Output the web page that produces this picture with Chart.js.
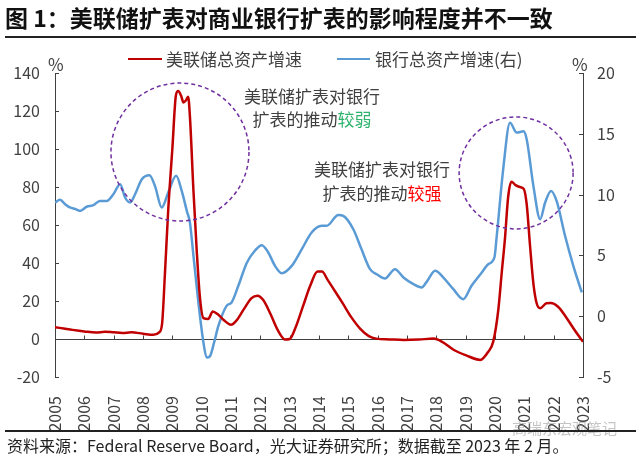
<!DOCTYPE html>
<html>
<head>
<meta charset="utf-8">
<script src="https://cdn.jsdelivr.net/npm/chart.js@4.4.1/dist/chart.umd.min.js"></script>
<style>
  html, body { margin:0; padding:0; background:#fff; }
  #wrap { position:relative; width:640px; height:456px; overflow:hidden; font-family:"Noto Sans CJK SC","Noto Sans",sans-serif; color:#404040; }
  #c { position:absolute; left:0; top:0; }
  .abs { position:absolute; white-space:nowrap; }
</style>
</head>
<body>
<div id="wrap">
  <canvas id="c" width="640" height="456"></canvas>
  <div class="abs" style="left:5px;top:5px;font-size:23px;line-height:24px;font-weight:700;color:#111;">图 1：美联储扩表对商业银行扩表的影响程度并不一致</div>
  <div class="abs" style="left:5px;top:36px;width:631px;height:1.5px;background:#222;"></div>

  <div class="abs" style="left:128px;top:57.5px;width:34px;height:2.5px;background:#C00000;"></div>
  <div class="abs" style="left:166px;top:49.5px;font-size:17px;line-height:17px;">美联储总资产增速</div>
  <div class="abs" style="left:337px;top:57.5px;width:33px;height:2.5px;background:#5B9BD5;"></div>
  <div class="abs" style="left:375px;top:49.5px;font-size:17px;line-height:17px;">银行总资产增速(右)</div>

  <div class="abs" style="left:48px;top:55px;font-size:17px;line-height:17px;">%</div>
  <div class="abs" style="left:572px;top:55px;font-size:17px;line-height:17px;">%</div>

  <div class="abs" style="left:212px;top:83.5px;width:200px;text-align:center;font-size:17px;line-height:23px;">美联储扩表对银行<br>扩表的推动<span style="color:#2EB36C;">较弱</span></div>
  <div class="abs" style="left:282px;top:157px;width:200px;text-align:center;font-size:17px;line-height:23.5px;">美联储扩表对银行<br>扩表的推动<span style="color:#FF0000;">较强</span></div>

  <div class="abs" style="left:512px;top:420px;font-size:15px;line-height:16px;color:rgba(150,150,150,0.55);">高瑞东宏观笔记</div>
  <div class="abs" style="left:5px;top:430px;width:631px;height:1.5px;background:#222;"></div>
  <div class="abs" style="left:7px;top:436px;font-size:16px;line-height:18px;color:#222;">资料来源：Federal Reserve Board，光大证券研究所；数据截至 2023 年 2 月。</div>
</div>
<script>
// ---- data ----
const years = [2005,2006,2007,2008,2009,2010,2011,2012,2013,2014,2015,2016,2017,2018,2019,2020,2021,2022,2023];
const leftTicks = [-20,0,20,40,60,80,100,120,140];
const rightTicks = [-5,0,5,10,15,20];

const fedX = [2005.0,2005.3,2005.6,2006.0,2006.4,2006.7,2007.0,2007.3,2007.6,2008.0,2008.35,2008.55,2008.65,2008.75,2008.86,2009.0,2009.12,2009.2,2009.3,2009.38,2009.46,2009.54,2009.6,2009.72,2009.83,2009.94,2010.06,2010.22,2010.38,2010.55,2010.75,2011.0,2011.2,2011.45,2011.7,2011.9,2012.1,2012.35,2012.6,2012.85,2013.0,2013.2,2013.45,2013.7,2013.95,2014.1,2014.3,2014.55,2014.8,2015.1,2015.4,2015.7,2015.95,2016.4,2016.9,2017.4,2017.9,2018.2,2018.6,2019.0,2019.5,2019.77,2019.94,2020.11,2020.23,2020.34,2020.45,2020.56,2020.7,2020.85,2020.98,2021.08,2021.19,2021.31,2021.42,2021.54,2021.75,2021.9,2022.15,2022.4,2022.7,2023.0];
const fedY = [6.2,5.5,4.8,4.0,3.4,3.8,3.5,3.2,3.5,2.8,2.2,3.5,8,35,68,100,128,130.5,128,124.5,125.5,127.5,117,78,47,22,11,10.5,14.5,13,10,7.5,10,16,21.5,22.8,20.5,13,4.5,-0.3,0,6,17,28,35.5,35.5,31,25,19,11.5,5.5,1.5,0.2,-0.2,-0.5,-0.3,0.2,-1.5,-5.8,-8.5,-11,-6.7,-1.4,15,35,53,75,82.8,81,80,79,71,50,29,18.8,16.2,18.8,19,17,12,5,-1.5];

const bankX = [2005.0,2005.17,2005.35,2005.51,2005.7,2005.85,2006.08,2006.31,2006.53,2006.76,2006.99,2007.22,2007.39,2007.56,2007.73,2007.96,2008.22,2008.41,2008.64,2008.86,2009.13,2009.32,2009.5,2009.6,2009.72,2009.89,2010.06,2010.17,2010.28,2010.42,2010.57,2010.85,2011.02,2011.25,2011.54,2011.82,2012.05,2012.27,2012.5,2012.73,2013.07,2013.41,2013.75,2014.09,2014.26,2014.66,2014.83,2015.17,2015.45,2015.74,2015.97,2016.25,2016.59,2016.88,2017.22,2017.5,2017.67,2017.96,2018.24,2018.58,2018.92,2019.2,2019.55,2019.77,2019.98,2020.06,2020.28,2020.51,2020.74,2020.97,2021.08,2021.31,2021.54,2021.71,2021.91,2022.1,2022.39,2022.67,2022.96];
const bankY = [9.35,9.57,9.2,8.94,8.8,8.66,9.0,9.13,9.48,9.48,10.03,10.86,9.76,9.35,10.03,11.27,11.6,10.7,8.94,10.17,11.54,10.3,8.6,7.7,4.96,1.1,-2.16,-3.4,-3.3,-2.2,-0.8,0.85,1.13,2.5,4.4,5.4,5.84,5.24,4.14,3.54,4.14,5.5,6.88,7.43,7.43,8.33,8.25,7.15,5.5,3.87,3.45,3.1,3.87,3.18,2.63,2.36,2.82,3.73,3.18,2.22,1.4,2.5,3.6,4.28,4.83,6.6,12.1,15.9,15.1,15.2,14.55,10.7,7.98,9.35,10.3,9.48,6.6,4.14,1.95];

// annotation ellipses: centre in data units (year, left-axis value), radii in px
const circles = [
  {year: 2009.26, value: 98.4, rx: 69, ry: 69},
  {year: 2020.72, value: 87.4, rx: 57, ry: 56}
];

const AXIS = '#404040';
Chart.defaults.font.family = '"Noto Sans CJK SC","Noto Sans",sans-serif';
Chart.defaults.color = '#404040';

const decor = {
  id: 'decor',
  beforeDatasetsDraw(chart) {
    const {ctx, chartArea: a, scales: {x, y, y2}} = chart;
    ctx.save();
    ctx.strokeStyle = AXIS;
    ctx.lineWidth = 1;
    const y0 = Math.round(y.getPixelForValue(0)) + 0.5;
    ctx.beginPath();
    ctx.moveTo(a.left, y0); ctx.lineTo(a.right, y0);
    years.forEach(v => {
      const px = Math.round(x.getPixelForValue(v)) + 0.5;
      ctx.moveTo(px, y0); ctx.lineTo(px, y0 - 4);
    });
    leftTicks.forEach(v => {
      const py = Math.round(y.getPixelForValue(v)) + 0.5;
      ctx.moveTo(a.left, py); ctx.lineTo(a.left + 4, py);
    });
    rightTicks.forEach(v => {
      const py = Math.round(y2.getPixelForValue(v)) + 0.5;
      ctx.moveTo(a.right, py); ctx.lineTo(a.right - 4, py);
    });
    ctx.stroke();
    ctx.restore();
  },
  afterDatasetsDraw(chart) {
    const {ctx, scales: {x, y}} = chart;
    ctx.save();
    ctx.strokeStyle = '#7030A0';
    ctx.lineWidth = 1.5;
    ctx.setLineDash([4, 3]);
    circles.forEach(c => {
      ctx.beginPath();
      ctx.ellipse(x.getPixelForValue(c.year), y.getPixelForValue(c.value), c.rx, c.ry, 0, 0, Math.PI * 2);
      ctx.stroke();
    });
    ctx.restore();
  }
};

new Chart(document.getElementById('c'), {
  type: 'line',
  data: {
    datasets: [
      {
        label: '美联储总资产增速',
        data: fedX.map((v, i) => ({x: v, y: fedY[i]})),
        borderColor: '#C00000', borderWidth: 2.5, pointRadius: 0,
        cubicInterpolationMode: 'monotone', yAxisID: 'y'
      },
      {
        label: '银行总资产增速(右)',
        data: bankX.map((v, i) => ({x: v, y: bankY[i]})),
        borderColor: '#5B9BD5', borderWidth: 2.5, pointRadius: 0,
        cubicInterpolationMode: 'monotone', yAxisID: 'y2'
      }
    ]
  },
  options: {
    responsive: false,
    animation: false,
    devicePixelRatio: 1,
    layout: {padding: {top: 73, left: 0, right: 0, bottom: 0}},
    plugins: {legend: {display: false}, tooltip: {enabled: false}},
    scales: {
      x: {
        type: 'linear', min: 2005, max: 2023,
        grid: {display: false}, border: {display: false},
        afterFit: s => { s.height = 79; },
        afterBuildTicks: s => { s.ticks = years.map(v => ({value: v})); },
        ticks: {
          autoSkip: false, maxRotation: 90, minRotation: 90, padding: 11,
          font: {size: 16}, color: '#404040',
          callback: v => String(v)
        }
      },
      y: {
        position: 'left', min: -20, max: 140,
        afterFit: s => { s.width = 55; },
        afterBuildTicks: s => { s.ticks = leftTicks.map(v => ({value: v})); },
        grid: {display: false, drawTicks: false},
        border: {display: true, color: AXIS, width: 1},
        ticks: {padding: 15, font: {size: 16}, color: '#404040', callback: v => String(v)}
      },
      y2: {
        position: 'right', min: -5, max: 20,
        afterFit: s => { s.width = 57; },
        afterBuildTicks: s => { s.ticks = rightTicks.map(v => ({value: v})); },
        grid: {display: false, drawTicks: false},
        border: {display: true, color: AXIS, width: 1},
        ticks: {padding: 14, font: {size: 16}, color: '#404040', callback: v => String(v)}
      }
    }
  },
  plugins: [decor]
});
</script>
</body>
</html>
